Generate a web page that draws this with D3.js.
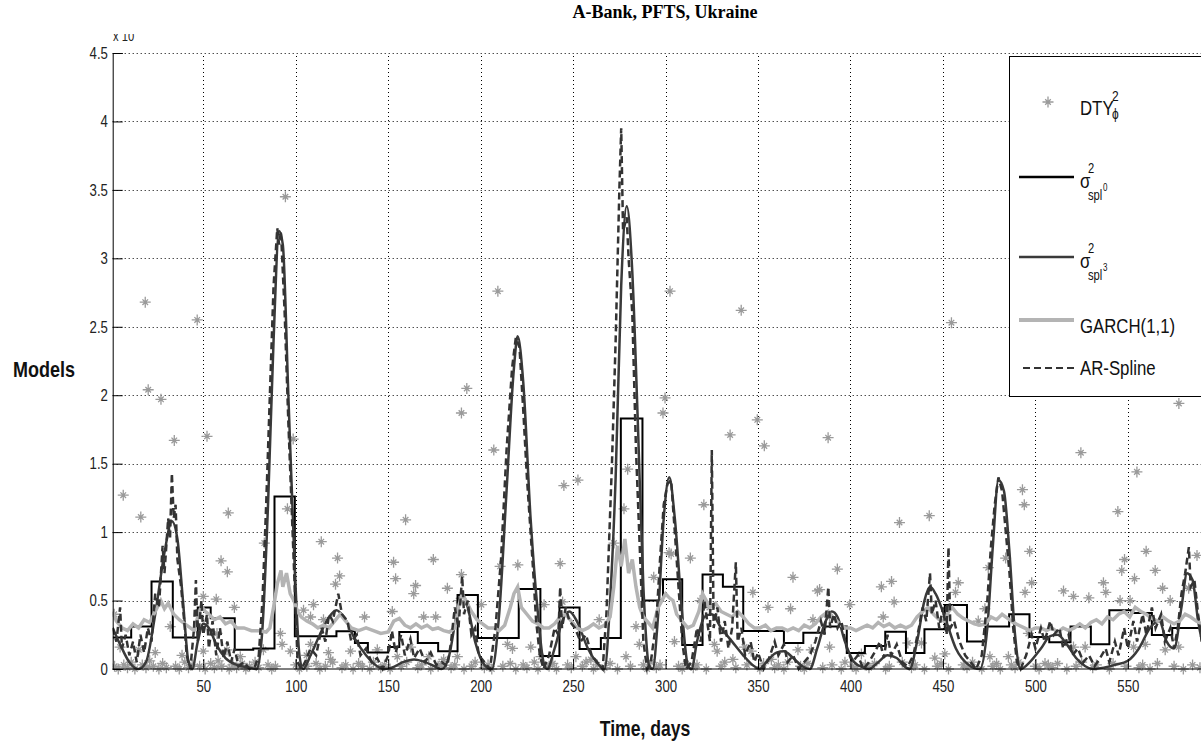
<html>
<head><meta charset="utf-8"/></head>
<script src='https://d3js.org/d3.v7.min.js'></script>
<style>
  body {margin: 0; background: #fff;}
</style>
<body onload='init()'>
<svg width=1201 height=744></svg>
<script>

// y ticks and x ticks
var yTicks = [0, 0.5, 1, 1.5, 2, 2.5, 3, 3.5, 4, 4.5];
var yTickLabels = ["0", "0.5", "1", "1.5", "2", "2.5", "3", "3.5", "4", "4.5"];
var xTicks = [50, 100, 150, 200, 250, 300, 350, 400, 450, 500, 550];

// sigma^2 spl0: step starts and levels
var spl0Start = [1, 11, 22, 33.5, 47, 54, 67, 77, 88.5, 99.5, 122, 132, 139, 150, 156, 166, 177, 187.5, 198.5, 220.6, 232.3, 242.6, 253.5, 265, 275.8, 287.5, 298.6, 309, 320, 331, 342, 364, 374.5, 386, 398, 407.8, 418.8, 430, 440, 451, 463, 473, 485.8, 496.8, 507.5, 519, 530, 540, 552, 563, 574, 600];
var spl0Level = [0.23, 0.31, 0.64, 0.23, 0.45, 0.37, 0.14, 0.15, 1.26, 0.24, 0.275, 0.19, 0.12, 0.16, 0.27, 0.19, 0.13, 0.54, 0.226, 0.584, 0.095, 0.45, 0.146, 0.226, 1.83, 0.5, 0.655, 0.175, 0.69, 0.6, 0.277, 0.19, 0.265, 0.31, 0.117, 0.168, 0.272, 0.117, 0.29, 0.467, 0.2, 0.31, 0.4, 0.233, 0.195, 0.31, 0.18, 0.43, 0.41, 0.248, 0.3, 0.3];

// sigma^2 spl3: knots [day, value]
var spl3 = [[1,0.3],[5,0.18],[10,0.05],[15,0],[19,0.05],[24,0.4],[29,0.85],[33,1.08],[36,0.95],[39,0.5],[42,0.05],[44,0],[47,0.2],[50,0.33],[53,0.3],[57,0.18],[62,0.08],[68,0.03],[75,0.01],[79,0],[82,0.3],[85,1.2],[88,2.4],[91,3.2],[93,3.1],[96,2.0],[99,0.9],[102,0.1],[104,0],[108,0.1],[113,0.25],[118,0.38],[122,0.43],[126,0.38],[132,0.22],[138,0.1],[144,0.02],[148,0],[152,0.01],[158,0.05],[164,0.07],[170,0.05],[175,0.02],[179,0],[183,0.1],[187,0.4],[190,0.55],[193,0.45],[197,0.2],[202,0.03],[206,0],[210,0.4],[214,1.3],[218,2.2],[220,2.43],[223,2.1],[227,1.1],[231,0.4],[234,0.05],[236,0],[240,0.15],[245,0.38],[248,0.42],[252,0.35],[258,0.15],[264,0.03],[267,0],[270,0.5],[273,1.4],[276,2.8],[279,3.38],[282,2.9],[285,1.8],[288,0.6],[291,0.03],[293,0],[296,0.4],[299,1.1],[302,1.4],[305,1.1],[309,0.4],[312,0.03],[314,0],[317,0.2],[321,0.38],[325,0.4],[330,0.3],[336,0.2],[342,0.1],[347,0.03],[351,0],[355,0.06],[360,0.12],[364,0.13],[369,0.08],[374,0.02],[378,0],[382,0.15],[386,0.33],[390,0.42],[393,0.38],[397,0.2],[402,0.05],[407,0.01],[410,0],[415,0.05],[420,0.1],[425,0.08],[429,0.02],[432,0],[436,0.2],[440,0.5],[443,0.6],[446,0.55],[451,0.38],[457,0.15],[464,0.03],[470,0],[474,0.3],[477,0.9],[480,1.38],[483,1.3],[486,0.85],[489,0.25],[492,0],[497,0.05],[503,0.15],[508,0.24],[512,0.25],[517,0.18],[522,0.08],[527,0.02],[531,0],[537,0.01],[543,0.03],[550,0.06],[556,0.15],[562,0.3],[567,0.35],[571,0.2],[575,0.15],[579,0.45],[582,0.7],[585,0.65],[588,0.35],[591,0.15]];

// GARCH(1,1)
var garch = [[1,0.42],[3,0.35],[6,0.3],[9,0.28],[12,0.33],[15,0.3],[18,0.36],[21,0.34],[24,0.42],[27,0.5],[29,0.44],[31,0.48],[34,0.4],[37,0.36],[40,0.33],[43,0.3],[45,0.28],[47,0.38],[49,0.46],[51,0.42],[53,0.4],[56,0.36],[59,0.38],[62,0.33],[65,0.35],[68,0.3],[72,0.3],[76,0.28],[80,0.28],[84,0.27],[86,0.3],[88,0.45],[90,0.62],[92,0.72],[93,0.6],[95,0.7],[97,0.55],[99,0.5],[101,0.42],[103,0.38],[106,0.35],[109,0.33],[112,0.3],[115,0.32],[118,0.3],[121,0.35],[124,0.4],[127,0.35],[130,0.3],[134,0.28],[138,0.3],[142,0.28],[146,0.26],[150,0.27],[153,0.35],[156,0.37],[159,0.32],[162,0.3],[165,0.33],[168,0.3],[171,0.32],[174,0.29],[177,0.3],[180,0.28],[183,0.27],[186,0.3],[188,0.45],[190,0.55],[192,0.5],[195,0.42],[198,0.36],[201,0.33],[204,0.3],[207,0.3],[210,0.28],[213,0.32],[216,0.45],[218,0.55],[220,0.6],[222,0.45],[225,0.4],[228,0.35],[231,0.33],[234,0.3],[237,0.3],[240,0.33],[243,0.38],[246,0.4],[249,0.35],[252,0.3],[255,0.28],[258,0.3],[261,0.33],[264,0.3],[267,0.32],[270,0.38],[272,0.6],[274,0.9],[276,0.75],[278,0.95],[280,0.7],[282,0.8],[284,0.6],[286,0.45],[288,0.38],[290,0.35],[293,0.3],[296,0.45],[298,0.5],[300,0.55],[302,0.52],[304,0.5],[306,0.4],[309,0.35],[312,0.3],[315,0.32],[318,0.42],[320,0.55],[322,0.5],[324,0.45],[327,0.48],[330,0.42],[333,0.4],[336,0.38],[339,0.42],[342,0.38],[345,0.33],[348,0.3],[351,0.3],[354,0.32],[357,0.28],[360,0.3],[363,0.3],[366,0.28],[369,0.3],[372,0.28],[375,0.32],[378,0.3],[381,0.33],[384,0.38],[386,0.4],[388,0.42],[391,0.37],[394,0.33],[397,0.3],[400,0.3],[403,0.28],[406,0.3],[409,0.32],[412,0.3],[415,0.34],[418,0.31],[421,0.33],[424,0.3],[427,0.32],[430,0.3],[433,0.32],[436,0.38],[439,0.42],[442,0.45],[445,0.4],[448,0.36],[451,0.35],[453,0.42],[455,0.45],[458,0.4],[461,0.37],[464,0.35],[467,0.33],[470,0.32],[473,0.33],[476,0.38],[479,0.36],[482,0.4],[485,0.37],[488,0.34],[491,0.32],[494,0.3],[497,0.28],[500,0.3],[503,0.3],[506,0.28],[509,0.3],[512,0.27],[515,0.3],[518,0.28],[521,0.3],[524,0.33],[527,0.3],[530,0.34],[533,0.36],[536,0.33],[539,0.38],[542,0.36],[545,0.4],[548,0.42],[551,0.38],[554,0.45],[557,0.42],[560,0.4],[563,0.37],[566,0.35],[569,0.38],[572,0.35],[575,0.33],[578,0.35],[581,0.4],[584,0.38],[587,0.35],[590,0.33]];

// AR-Spline
var arSpline = [[1,0.3],[3,0.2],[5,0.45],[6,0.15],[8,0.25],[10,0.1],[12,0.2],[14,0.05],[16,0.25],[18,0.12],[20,0.3],[22,0.2],[24,0.55],[26,0.45],[28,0.9],[29,0.7],[31,1.1],[32,0.95],[33,1.43],[34,1.1],[35,1.2],[36,0.8],[38,0.6],[40,0.3],[41,0.1],[43,0.0],[45,0.3],[46,0.65],[47,0.2],[49,0.5],[50,0.25],[52,0.4],[53,0.15],[55,0.35],[57,0.1],[59,0.3],[61,0.08],[63,0.2],[65,0.05],[67,0.15],[69,0.02],[72,0.05],[75,0.0],[78,0.02],[80,0.1],[82,0.5],[84,1.2],[86,2.0],[88,2.8],[90,3.22],[91,3.1],[92,3.2],[94,2.6],[96,1.8],[98,1.1],[100,0.4],[101,0.05],[103,0.0],[105,0.05],[108,0.15],[111,0.1],[114,0.3],[116,0.2],[118,0.4],[120,0.35],[123,0.55],[125,0.4],[128,0.35],[130,0.2],[133,0.25],[135,0.1],[138,0.15],[141,0.05],[144,0.08],[147,0.0],[150,0.1],[152,0.28],[154,0.12],[157,0.25],[159,0.1],[162,0.22],[164,0.08],[167,0.15],[170,0.05],[173,0.12],[176,0.03],[179,0.05],[182,0.02],[184,0.2],[186,0.45],[188,0.3],[190,0.68],[191,0.4],[193,0.5],[195,0.25],[197,0.3],[199,0.1],[202,0.05],[205,0.0],[208,0.3],[211,0.8],[214,1.6],[217,2.2],[219,2.42],[221,2.35],[223,1.9],[225,1.4],[228,0.8],[230,0.35],[232,0.1],[234,0.0],[237,0.1],[240,0.3],[242,0.25],[243,0.6],[244,0.3],[246,0.45],[248,0.35],[251,0.3],[254,0.2],[257,0.25],[260,0.1],[263,0.05],[266,0.0],[268,0.4],[271,1.5],[273,2.4],[275,3.5],[276,3.95],[277,3.2],[279,3.3],[280,3.0],[282,2.6],[284,1.6],[286,0.9],[288,0.2],[290,0.0],[292,0.05],[295,0.35],[297,0.8],[299,1.2],[301,1.35],[303,1.38],[305,1.0],[307,0.6],[309,0.2],[311,0.0],[314,0.05],[317,0.3],[319,0.2],[321,0.5],[323,0.3],[324,0.2],[325,1.6],[326,0.3],[328,0.45],[330,0.2],[332,0.35],[334,0.15],[336,0.3],[338,0.78],[339,0.2],[341,0.3],[343,0.1],[346,0.2],[348,0.05],[350,0.12],[353,0.0],[356,0.08],[359,0.2],[361,0.1],[364,0.18],[366,0.05],[369,0.1],[372,0.0],[375,0.05],[378,0.1],[381,0.2],[384,0.35],[386,0.25],[388,0.6],[389,0.3],[391,0.4],[393,0.3],[395,0.35],[398,0.15],[401,0.05],[404,0.1],[407,0.0],[410,0.05],[413,0.12],[416,0.2],[418,0.08],[420,0.25],[422,0.1],[425,0.18],[428,0.05],[431,0.02],[434,0.1],[437,0.3],[439,0.45],[441,0.35],[443,0.7],[444,0.4],[446,0.5],[448,0.3],[450,0.45],[452,0.25],[453,0.89],[454,0.3],[456,0.35],[459,0.2],[462,0.1],[465,0.05],[468,0.0],[471,0.1],[474,0.5],[476,0.9],[478,1.2],[480,1.4],[482,1.3],[484,1.0],[486,0.7],[488,0.3],[490,0.05],[492,0.0],[495,0.1],[498,0.25],[500,0.15],[503,0.3],[505,0.2],[508,0.35],[510,0.25],[513,0.3],[515,0.15],[518,0.25],[520,0.1],[523,0.15],[526,0.05],[529,0.1],[532,0.02],[535,0.08],[538,0.15],[540,0.05],[543,0.2],[545,0.1],[548,0.3],[550,0.15],[553,0.35],[555,0.2],[558,0.4],[560,0.25],[563,0.45],[565,0.3],[568,0.4],[570,0.2],[573,0.3],[575,0.15],[577,0.3],[579,0.55],[581,0.7],[583,0.89],[584,0.6],[586,0.65],[588,0.4],[590,0.2]];

// DTY^2 observations, [day, value]
var dty = [[1.8,0.4],[5,0.16],[6.7,1.27],[15.1,0.14],[16.2,1.11],[18.6,2.68],[20.2,2.04],[24,0.12],[27.1,1.97],[32.1,0.31],[34.3,1.67],[38.5,0.1],[46.7,2.55],[50,0.13],[50,0.53],[52,1.7],[57,0.51],[57.4,0.26],[59.6,0.79],[62.8,0.14],[63,0.71],[63.5,1.14],[66.8,0.45],[70,0.09],[82.5,0.14],[83,0.92],[91.7,0.26],[92.6,0.18],[94.4,3.45],[95.5,1.17],[97.1,0.13],[98.6,1.68],[104.2,0.43],[105.8,0.1],[108,0.38],[108,0.18],[109.6,0.47],[113.8,0.93],[115,0.36],[117.7,0.12],[118.8,0.07],[121.5,0.62],[122.6,0.81],[123.7,0.68],[129.6,0.13],[137.2,0.38],[144.1,0.14],[152.2,0.42],[152.9,0.78],[154,0.66],[154.9,0.09],[159.4,1.09],[162.1,0.16],[163.8,0.55],[164.8,0.61],[169.2,0.38],[171.9,0.09],[174.4,0.8],[175.7,0.38],[180,0.07],[182,0.59],[187.4,0.09],[188.1,0.5],[189.6,1.87],[189.6,0.69],[192.5,2.05],[200.4,0.47],[207.1,1.6],[209.3,2.76],[210.5,0.75],[214.5,0.18],[217.2,0.15],[220.1,0.76],[227.1,0.16],[232.6,0.09],[234.3,0.47],[243,0.77],[244.3,0.49],[245,1.34],[251.5,0.09],[252.6,1.38],[259.6,0.07],[264.1,0.36],[272.1,0.92],[277.5,1.17],[278.6,0.09],[279.5,1.46],[284,0.31],[285.8,0.18],[293.6,0.67],[298.6,1.87],[299.7,1.98],[301.9,0.85],[302.4,2.76],[303,0.84],[304.8,0.2],[313.4,0.81],[318.7,0.5],[320.7,1.2],[323.7,0.45],[326.4,0.18],[327.9,0.13],[334.9,1.71],[336.4,0.07],[340.9,2.62],[342.7,0.16],[346.3,0.13],[347.2,0.56],[349.6,1.82],[353.4,1.63],[355.4,0.45],[357.2,0.07],[367.6,0.44],[368.9,0.67],[371.6,0.14],[378.8,0.14],[379.7,0.36],[382.1,0.57],[383.3,0.58],[387.9,1.69],[388.7,0.38],[388.7,0.16],[392.9,0.73],[399.6,0.47],[405.9,0.11],[416.7,0.6],[417.7,0.38],[422.2,0.64],[423.6,0.49],[426.5,1.07],[431,0.19],[438.4,0.19],[442.6,1.12],[445.6,0.08],[451,0.11],[454.6,2.53],[456.8,0.56],[458.3,0.63],[469.1,0.35],[472.7,0.44],[474.5,0.74],[475.4,0.09],[483.9,0.81],[485.4,0.09],[493,1.31],[494,1.2],[494.4,0.56],[496.2,0.26],[496.9,0.86],[498,0.63],[505.2,0.04],[515.2,0.57],[520.6,0.53],[520.6,0.16],[524.6,1.58],[526.9,0.16],[528.9,0.52],[536.8,0.63],[538.1,0.56],[544.6,1.15],[545.8,0.5],[546.7,0.72],[548.2,0.8],[551.2,0.5],[553.6,0.66],[553.1,0.16],[554.9,1.44],[559.4,0.18],[559.9,0.86],[564.8,0.72],[568.8,0.59],[570.2,0.14],[572.9,0.5],[577.5,0.16],[577.6,1.94],[582.9,0.59],[587.4,0.83]];

// DTY^2 observations close to zero
var dtyLow = [[2,0.02],[4,0.0],[7,0.03],[9,0.01],[11,0.05],[13,0.0],[17,0.03],[19,0.01],[21,0.06],[23,0.02],[26,0.0],[28,0.04],[30,0.01],[35,0.02],[37,0.0],[40,0.05],[42,0.01],[44,0.03],[48,0.02],[51,0.0],[54,0.04],[56,0.01],[58,0.06],[60,0.02],[64,0.0],[66,0.03],[68,0.01],[71,0.04],[73,0.0],[75,0.02],[78,0.05],[80,0.01],[85,0.03],[87,0.0],[89,0.02],[100,0.03],[102,0.0],[106,0.02],[111,0.04],[113,0.0],[116,0.02],[120,0.05],[125,0.01],[127,0.03],[131,0.0],[134,0.04],[136,0.02],[140,0.0],[142,0.05],[146,0.01],[148,0.03],[151,0.0],[157,0.02],[160,0.05],[166,0.01],[168,0.03],[173,0.0],[177,0.02],[179,0.04],[184,0.01],[186,0.03],[191,0.0],[195,0.02],[197,0.05],[202,0.01],[204,0.03],[206,0.0],[212,0.02],[216,0.04],[219,0.0],[223,0.03],[225,0.01],[229,0.05],[231,0.0],[237,0.02],[239,0.04],[241,0.0],[247,0.03],[249,0.01],[255,0.02],[257,0.05],[261,0.0],[263,0.03],[267,0.01],[270,0.04],[274,0.0],[281,0.02],[288,0.03],[290,0.0],[292,0.05],[295,0.01],[297,0.03],[307,0.02],[309,0.0],[311,0.04],[315,0.01],[317,0.03],[322,0.0],[330,0.02],[332,0.05],[338,0.01],[344,0.03],[351,0.0],[353,0.04],[359,0.01],[361,0.03],[364,0.0],[366,0.05],[373,0.02],[375,0.0],[377,0.04],[385,0.01],[390,0.03],[395,0.0],[397,0.05],[401,0.02],[403,0.0],[408,0.03],[410,0.01],[413,0.04],[419,0.0],[421,0.02],[428,0.05],[433,0.01],[435,0.03],[440,0.0],[447,0.02],[449,0.04],[453,0.0],[461,0.03],[463,0.01],[466,0.05],[471,0.0],[477,0.02],[479,0.04],[481,0.0],[487,0.03],[489,0.01],[491,0.05],[500,0.02],[502,0.0],[507,0.03],[509,0.01],[512,0.04],[517,0.0],[522,0.02],[525,0.05],[531,0.01],[533,0.03],[540,0.0],[542,0.04],[549,0.02],[556,0.01],[558,0.03],[562,0.0],[566,0.04],[575,0.02],[580,0.0],[585,0.03],[589,0.01]];

var starColor = "#9a9a9a";
var starPath = "M-5.5,0H5.5M0,-5.5V5.5M-2.8,-2.8L2.8,2.8M-2.8,2.8L2.8,-2.8";
var sans = "Liberation Sans, Arial, sans-serif";
var narrow = 0.8;

// narrow text placed at (px, py)
function ntext(g, px, py, size, str, bold) {
  return g.append("text")
    .attr("transform", "translate(" + px + "," + py + ") scale(" + narrow + ",1)")
    .style("font-family", sans).style("font-size", size + "px")
    .style("font-weight", bold ? "bold" : "normal")
    .attr("fill", "#111").text(str);
}

function init() {
  var svg = d3.select("svg");
  var x = d3.scaleLinear().domain([1, 600]).range([112.7, 1220.3]);
  var y = d3.scaleLinear().domain([0, 4.5]).range([669, 53]);

  // grid
  var grid = svg.append("g").attr("stroke", "#000").attr("stroke-width", 1)
    .attr("stroke-dasharray", "1,3");
  grid.selectAll("line.gy").data(yTicks.slice(1)).enter().append("line")
    .attr("x1", x(1)).attr("x2", 1201)
    .attr("y1", function(d) { return Math.round(y(d)) + 0.5; })
    .attr("y2", function(d) { return Math.round(y(d)) + 0.5; });
  grid.selectAll("line.gx").data(xTicks).enter().append("line")
    .attr("y1", y(0)).attr("y2", y(4.5))
    .attr("x1", function(d) { return Math.round(x(d)) + 0.5; })
    .attr("x2", function(d) { return Math.round(x(d)) + 0.5; });

  svg.append("clipPath").attr("id", "clip").append("rect")
    .attr("x", x(1)).attr("y", 40).attr("width", 1201 - x(1)).attr("height", 640);
  var plot = svg.append("g").attr("clip-path", "url(#clip)");

  // stars
  plot.selectAll("path.star").data(dtyLow.concat(dty)).enter().append("path")
    .attr("d", starPath)
    .attr("transform", function(d) { return "translate(" + x(d[0]) + "," + y(d[1]) + ")"; })
    .attr("stroke", starColor).attr("stroke-width", 1.3).attr("fill", "none");

  var line = d3.line().x(function(d) { return x(d[0]); }).y(function(d) { return y(d[1]); });

  // step spl0
  var stepLine = d3.line().curve(d3.curveStepAfter)
    .x(function(d, i) { return x(spl0Start[i]); })
    .y(function(d) { return y(d); });
  plot.append("path").attr("d", stepLine(spl0Level))
    .attr("fill", "none").attr("stroke", "#000").attr("stroke-width", 2);

  // spl3
  plot.append("path").attr("d", line.curve(d3.curveMonotoneX)(spl3))
    .attr("fill", "none").attr("stroke", "#3a3a3a").attr("stroke-width", 2.5);

  // garch
  plot.append("path").attr("d", line.curve(d3.curveLinear)(garch))
    .attr("fill", "none").attr("stroke", "#b4b4b4").attr("stroke-width", 3.5);

  // ar-spline
  plot.append("path").attr("d", line.curve(d3.curveLinear)(arSpline))
    .attr("fill", "none").attr("stroke", "#333").attr("stroke-width", 2.5)
    .attr("stroke-dasharray", "7,4");

  // axes
  var yAxis = d3.axisLeft(y).tickValues(yTicks).tickSize(-10).tickPadding(6)
    .tickFormat(function(d, i) { return yTickLabels[i]; });
  var gy = svg.append("g").attr("transform", "translate(" + x(1) + ",0)").call(yAxis);
  var xAxis = d3.axisBottom(x).tickValues(xTicks).tickSize(-10).tickPadding(11);
  var gx = svg.append("g").attr("transform", "translate(0," + y(0) + ")").call(xAxis);
  [gy, gx].forEach(function(g) {
    g.select(".domain").attr("stroke", "#000");
    g.selectAll(".tick line").attr("stroke", "#000");
    g.selectAll("text").style("font-size", "16.5px").style("font-family", sans)
      .attr("fill", "#222").attr("transform", "scale(" + narrow + ",1)");
  });
  gx.select(".domain").attr("d", "M" + x(1) + ",0H1201");

  // exponent, clipped at the top
  ntext(svg, 113, 41, 14, "x 10").attr("fill", "#222");
  svg.append("rect").attr("x", 105).attr("y", 0).attr("width", 60).attr("height", 34).attr("fill", "#fff");

  // titles
  svg.append("text").attr("x", 665).attr("y", 18).attr("text-anchor", "middle")
    .style("font-family", "Liberation Serif, serif").style("font-weight", "bold").style("font-size", "18px")
    .text("A-Bank, PFTS, Ukraine");
  ntext(svg, 13, 377, 22.5, "Models", true);
  ntext(svg, 645, 736, 22, "Time, days", true).attr("text-anchor", "middle");

  // legend
  var lg = svg.append("g");
  lg.append("rect").attr("x", 1009.5).attr("y", 56.5).attr("width", 220).attr("height", 340)
    .attr("fill", "#fff").attr("stroke", "#000").attr("stroke-width", 1);
  lg.append("path").attr("d", starPath).attr("transform", "translate(1048,102)")
    .attr("stroke", starColor).attr("stroke-width", 1.3);
  ntext(lg, 1080, 115, 21, "DTY");
  ntext(lg, 1112, 101, 15, "2");
  ntext(lg, 1112, 119, 15, "ϕ");

  var entries = [
    {y: 177, stroke: "#000", sub: "0"},
    {y: 257, stroke: "#3a3a3a", sub: "3"}
  ];
  entries.forEach(function(e) {
    lg.append("line").attr("x1", 1019).attr("x2", 1074).attr("y1", e.y).attr("y2", e.y)
      .attr("stroke", e.stroke).attr("stroke-width", 2.5);
    ntext(lg, 1080, e.y + 11, 21, "σ");
    ntext(lg, 1088, e.y - 4, 14, "2");
    ntext(lg, 1088, e.y + 23, 14, "spl");
    ntext(lg, 1103, e.y + 14, 10, e.sub);
  });
  lg.append("line").attr("x1", 1019).attr("x2", 1074).attr("y1", 320).attr("y2", 320)
    .attr("stroke", "#b4b4b4").attr("stroke-width", 4);
  ntext(lg, 1080, 333, 21, "GARCH(1,1)");
  lg.append("line").attr("x1", 1023).attr("x2", 1074).attr("y1", 368).attr("y2", 368)
    .attr("stroke", "#333").attr("stroke-width", 2).attr("stroke-dasharray", "7,4");
  ntext(lg, 1080, 375, 21, "AR-Spline");
}
</script>
</body>
</html>
